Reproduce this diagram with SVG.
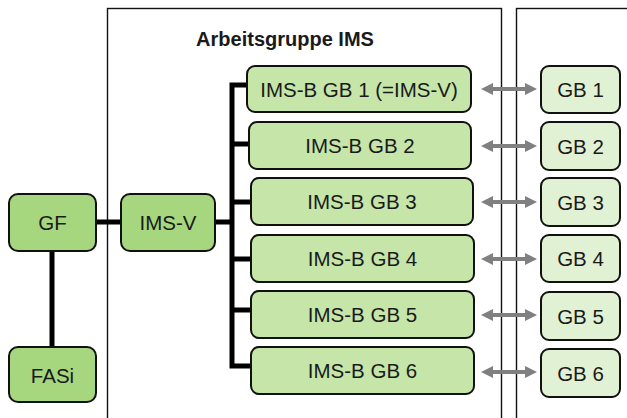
<svg xmlns="http://www.w3.org/2000/svg" width="627" height="418" viewBox="0 0 627 418">
  <style>
    .frame { fill: none; stroke: #111; stroke-width: 1.4; }
    .box { stroke: #111; stroke-width: 2; }
    .main { fill: #a6d77f; }
    .sub { fill: #c5e5a9; }
    .gb { fill: #e1f1d3; }
    .lbl { font-family: "Liberation Sans", Arial, sans-serif; font-size: 20.5px; fill: #1a1a1a; text-anchor: middle; dominant-baseline: central; }
    .title { font-family: "Liberation Sans", Arial, sans-serif; font-size: 20px; font-weight: bold; fill: #1a1a1a; text-anchor: middle; }
    .link { fill: none; stroke: #000; stroke-width: 5; stroke-linejoin: miter; }
    .arrow { fill: none; stroke: #808080; stroke-width: 4; marker-start: url(#head); marker-end: url(#head); }
  </style>
  <defs>
    <marker id="head" viewBox="0 0 10 10" refX="5" refY="5" markerWidth="3" markerHeight="3" orient="auto-start-reverse">
      <path d="M0,0 L10,5 L0,10 Z" fill="#808080"/>
    </marker>
  </defs>

  <!-- group frames -->
  <rect class="frame" x="107.5" y="8.5" width="394" height="420"/>
  <rect class="frame" x="516.5" y="8.5" width="130" height="420"/>
  <text class="title" x="285" y="46">Arbeitsgruppe IMS</text>

  <!-- connectors -->
  <g id="connectors">
    <line class="link" x1="52" y1="250" x2="52" y2="348"/>
    <line class="link" x1="96" y1="222" x2="121" y2="222"/>
    <line class="link" x1="214" y1="222" x2="232" y2="222"/>
    <polyline class="link" points="247,85 232,85 232,366 252,366"/>
    <line class="link" x1="232" y1="144" x2="249" y2="144"/>
    <line class="link" x1="232" y1="202" x2="252" y2="202"/>
    <line class="link" x1="232" y1="259" x2="252" y2="259"/>
    <line class="link" x1="232" y1="310" x2="252" y2="310"/>
    <line class="arrow" x1="487" y1="89" x2="531" y2="89"/>
    <line class="arrow" x1="487" y1="146" x2="531" y2="146"/>
    <line class="arrow" x1="487" y1="202" x2="531" y2="202"/>
    <line class="arrow" x1="487" y1="259" x2="531" y2="259"/>
    <line class="arrow" x1="487" y1="315" x2="531" y2="315"/>
    <line class="arrow" x1="487" y1="372" x2="531" y2="372"/>
  </g>

  <!-- left column -->
  <g id="gf"><rect class="box main" x="9" y="194" width="87" height="57" rx="9"/><text class="lbl" x="52.5" y="222.5">GF</text></g>
  <g id="fasi"><rect class="box main" x="9" y="347" width="87" height="55" rx="9"/><text class="lbl" x="52.5" y="375">FASi</text></g>
  <g id="ims-v"><rect class="box main" x="121" y="194" width="94" height="57" rx="9"/><text class="lbl" x="168" y="222.5">IMS-V</text></g>

  <!-- IMS-B per GB -->
  <g id="imsb-1"><rect class="box sub" x="247" y="66" width="224" height="46" rx="8"/><text class="lbl" x="359" y="89">IMS-B GB 1 (=IMS-V)</text></g>
  <g id="imsb-2"><rect class="box sub" x="249" y="122" width="222" height="47" rx="8"/><text class="lbl" x="360" y="145.5">IMS-B GB 2</text></g>
  <g id="imsb-3"><rect class="box sub" x="251" y="178" width="222" height="47" rx="8"/><text class="lbl" x="362" y="201.5">IMS-B GB 3</text></g>
  <g id="imsb-4"><rect class="box sub" x="251" y="235" width="223" height="47" rx="8"/><text class="lbl" x="362.5" y="258.5">IMS-B GB 4</text></g>
  <g id="imsb-5"><rect class="box sub" x="251" y="291" width="223" height="47" rx="8"/><text class="lbl" x="362.5" y="314.5">IMS-B GB 5</text></g>
  <g id="imsb-6"><rect class="box sub" x="251" y="347" width="223" height="47" rx="8"/><text class="lbl" x="362.5" y="370.5">IMS-B GB 6</text></g>

  <!-- business units -->
  <g id="gb-1"><rect class="box gb" x="541" y="66" width="79" height="47" rx="8"/><text class="lbl" x="580.5" y="89.5">GB 1</text></g>
  <g id="gb-2"><rect class="box gb" x="541" y="122" width="79" height="48" rx="8"/><text class="lbl" x="580.5" y="146">GB 2</text></g>
  <g id="gb-3"><rect class="box gb" x="541" y="178" width="79" height="48" rx="8"/><text class="lbl" x="580.5" y="202">GB 3</text></g>
  <g id="gb-4"><rect class="box gb" x="541" y="235" width="79" height="47" rx="8"/><text class="lbl" x="580.5" y="258.5">GB 4</text></g>
  <g id="gb-5"><rect class="box gb" x="541" y="292" width="79" height="48" rx="8"/><text class="lbl" x="580.5" y="316">GB 5</text></g>
  <g id="gb-6"><rect class="box gb" x="541" y="349" width="79" height="48" rx="8"/><text class="lbl" x="580.5" y="373">GB 6</text></g>
</svg>
